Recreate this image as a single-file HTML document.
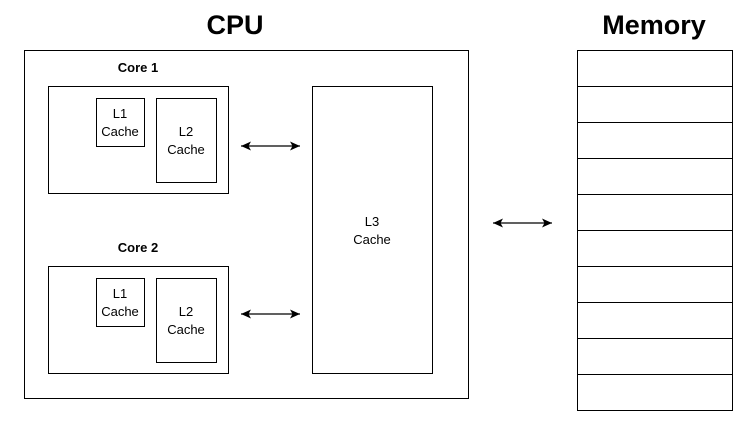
<!DOCTYPE html>
<html><head><style>body{margin:0;background:#fff}svg{display:block}</style></head><body>
<svg width="750" height="428" xmlns="http://www.w3.org/2000/svg" font-family="Liberation Sans, Arial, sans-serif">
<defs><marker id="a" markerWidth="11" markerHeight="11" refX="10" refY="5" orient="auto-start-reverse" markerUnits="userSpaceOnUse"><path d="M0,0.5 L10,5 L0,9.5 L2.5,5 Z" fill="#000"/></marker></defs>
<g fill="#fff" stroke="#000" stroke-width="1">
<rect x="24.5" y="50.5" width="444" height="348"/>
<rect x="48.5" y="86.5" width="180" height="107"/>
<rect x="96.5" y="98.5" width="48" height="48"/>
<rect x="156.5" y="98.5" width="60" height="84"/>
<rect x="48.5" y="266.5" width="180" height="107"/>
<rect x="96.5" y="278.5" width="48" height="48"/>
<rect x="156.5" y="278.5" width="60" height="84"/>
<rect x="312.5" y="86.5" width="120" height="287"/>
<rect x="577.5" y="50.5" width="155" height="360"/>
</g>
<g stroke="#000">
<line x1="577" y1="86.5" x2="732" y2="86.5"/><line x1="577" y1="122.5" x2="732" y2="122.5"/><line x1="577" y1="158.5" x2="732" y2="158.5"/><line x1="577" y1="194.5" x2="732" y2="194.5"/><line x1="577" y1="230.5" x2="732" y2="230.5"/><line x1="577" y1="266.5" x2="732" y2="266.5"/><line x1="577" y1="302.5" x2="732" y2="302.5"/><line x1="577" y1="338.5" x2="732" y2="338.5"/><line x1="577" y1="374.5" x2="732" y2="374.5"/>
</g>
<g stroke="#000" stroke-width="1.3">
<line x1="241" y1="146" x2="300" y2="146" marker-start="url(#a)" marker-end="url(#a)"/>
<line x1="241" y1="314" x2="300" y2="314" marker-start="url(#a)" marker-end="url(#a)"/>
<line x1="493" y1="223" x2="552" y2="223" marker-start="url(#a)" marker-end="url(#a)"/>
</g>
<g font-size="13" text-anchor="middle" fill="#000">
<text x="235" y="34" font-size="27" font-weight="bold">CPU</text>
<text x="654" y="34" font-size="27" font-weight="bold">Memory</text>
<text x="138" y="72" font-weight="bold">Core 1</text>
<text x="138" y="252" font-weight="bold">Core 2</text>
<text x="120" y="118">L1</text><text x="120" y="136">Cache</text>
<text x="186" y="136">L2</text><text x="186" y="154">Cache</text>
<text x="120" y="298">L1</text><text x="120" y="316">Cache</text>
<text x="186" y="316">L2</text><text x="186" y="334">Cache</text>
<text x="372" y="226">L3</text><text x="372" y="244">Cache</text>
</g>
</svg>
</body></html>
